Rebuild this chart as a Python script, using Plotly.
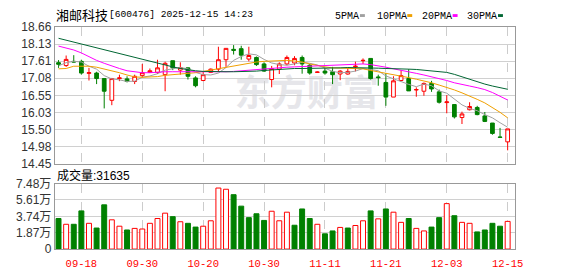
import plotly.graph_objects as go

# ---------------- data ----------------
dates = ["09-15", "09-16", "09-17", "09-18", "09-19", "09-22", "09-23", "09-24", "09-25", "09-26",
         "09-29", "09-30", "10-09", "10-10", "10-13", "10-14", "10-15", "10-16", "10-17", "10-20",
         "10-21", "10-22", "10-23", "10-24", "10-27", "10-28", "10-29", "10-30", "10-31", "11-03",
         "11-04", "11-05", "11-06", "11-07", "11-10", "11-11", "11-12", "11-13", "11-14", "11-17",
         "11-18", "11-19", "11-20", "11-21", "11-24", "11-25", "11-26", "11-27", "11-28", "12-01",
         "12-02", "12-03", "12-04", "12-05", "12-08", "12-09", "12-10", "12-11", "12-12", "12-15"]

opens = [17.56, 17.47, 17.60, 17.60, 17.23, 17.24, 17.07, 16.40, 17.07, 17.06,
         16.98, 17.16, 17.26, 17.26, 17.19, 17.62, 17.33, 17.40, 17.09, 17.01,
         17.26, 17.36, 17.65, 17.97, 17.99, 17.67, 17.72, 17.52, 17.04, 17.36,
         17.52, 17.55, 17.72, 17.48, 17.26, 17.30, 17.28, 17.21, 17.21, 17.43,
         17.62, 17.69, 17.12, 16.95, 16.50, 17.01, 17.07, 16.72, 16.68, 16.92,
         16.66, 16.33, 16.27, 15.87, 16.11, 16.18, 15.92, 15.70, 15.27, 15.12]
highs = [17.64, 17.78, 17.79, 17.65, 17.40, 17.28, 17.07, 17.09, 17.19, 17.14,
         17.19, 17.52, 17.38, 17.65, 17.59, 17.62, 17.57, 17.41, 17.14, 17.28,
         17.38, 18.05, 18.00, 18.10, 18.08, 18.05, 17.75, 17.57, 17.46, 17.57,
         17.78, 17.76, 17.78, 17.52, 17.29, 17.40, 17.43, 17.33, 17.40, 17.59,
         17.69, 17.69, 17.19, 17.24, 17.14, 17.33, 17.36, 16.80, 16.95, 17.00,
         16.73, 16.56, 16.27, 16.05, 16.34, 16.23, 16.04, 15.70, 15.55, 15.52]
lows = [17.40, 17.43, 17.57, 17.19, 17.01, 16.90, 16.15, 16.25, 16.99, 16.95,
        16.90, 17.09, 17.24, 17.21, 16.68, 17.33, 17.19, 17.04, 16.80, 16.99,
        17.24, 17.28, 17.43, 17.81, 17.65, 17.60, 17.46, 17.28, 16.80, 17.21,
        17.48, 17.48, 17.22, 17.19, 17.25, 17.19, 16.90, 17.02, 17.19, 17.29,
        17.52, 17.04, 16.85, 16.23, 16.50, 16.99, 16.69, 16.51, 16.54, 16.66,
        16.30, 16.00, 15.84, 15.67, 16.09, 15.94, 15.73, 15.34, 15.24, 14.86]
closes = [17.51, 17.66, 17.58, 17.24, 17.25, 17.07, 16.68, 17.07, 17.09, 16.98,
          17.14, 17.25, 17.31, 17.40, 17.54, 17.40, 17.41, 17.14, 16.85, 17.19,
          17.36, 17.65, 18.00, 17.94, 17.79, 17.78, 17.50, 17.30, 17.38, 17.52,
          17.72, 17.69, 17.52, 17.24, 17.27, 17.24, 17.19, 17.30, 17.29, 17.45,
          17.63, 17.07, 17.10, 16.50, 17.00, 17.16, 16.69, 16.73, 16.92, 16.75,
          16.34, 16.35, 15.89, 15.98, 16.21, 15.96, 15.75, 15.38, 15.26, 15.52]

# volume in 万 (10k shares); 1 = up day (red hollow), 0 = down day (green)
volume = [3.49, 2.83, 2.83, 4.36, 2.94, 2.40, 5.05, 3.34, 2.61, 2.18,
          2.36, 2.29, 2.94, 3.49, 4.10, 3.70, 3.12, 2.94, 2.51, 2.61,
          3.23, 6.97, 6.83, 6.21, 4.90, 3.59, 4.03, 3.27, 4.32, 3.23,
          4.21, 2.72, 4.58, 3.49, 2.83, 1.74, 2.07, 2.47, 2.40, 2.69,
          3.23, 4.36, 3.45, 4.58, 4.21, 3.05, 3.49, 2.36, 2.07, 2.51,
          3.59, 5.19, 3.81, 3.05, 2.94, 1.96, 2.18, 2.94, 2.61, 3.16]
vol_up = [0, 1, 0, 0, 1, 0, 0, 1, 1, 0,
          1, 1, 1, 1, 1, 0, 1, 0, 0, 1,
          1, 1, 1, 0, 0, 0, 0, 0, 1, 1,
          1, 0, 0, 0, 1, 0, 0, 1, 0, 1,
          1, 0, 1, 0, 1, 1, 0, 1, 1, 0,
          0, 1, 0, 1, 1, 0, 0, 0, 0, 1]

ma5 = [17.46, 17.56, 17.60, 17.58, 17.45, 17.36, 17.16, 17.06, 17.03, 16.98,
       16.99, 17.11, 17.15, 17.22, 17.33, 17.38, 17.41, 17.37, 17.26, 17.19,
       17.18, 17.24, 17.41, 17.63, 17.75, 17.83, 17.80, 17.66, 17.55, 17.50,
       17.48, 17.52, 17.57, 17.54, 17.49, 17.39, 17.29, 17.25, 17.26, 17.30,
       17.38, 17.35, 17.31, 17.15, 17.06, 16.97, 16.89, 16.82, 16.90, 16.85,
       16.69, 16.62, 16.45, 16.26, 16.15, 16.08, 15.96, 15.86, 15.71, 15.57]
ma10 = [17.37, 17.38, 17.45, 17.46, 17.45, 17.42, 17.37, 17.31, 17.25, 17.18,
        17.12, 17.11, 17.11, 17.13, 17.17, 17.19, 17.21, 17.22, 17.25, 17.29,
        17.33, 17.38, 17.42, 17.47, 17.51, 17.55, 17.58, 17.60, 17.61, 17.62,
        17.63, 17.61, 17.58, 17.52, 17.47, 17.43, 17.40, 17.39, 17.38, 17.37,
        17.37, 17.32, 17.28, 17.24, 17.19, 17.15, 17.10, 17.05, 17.00, 16.94,
        16.87, 16.80, 16.72, 16.63, 16.54, 16.43, 16.32, 16.18, 16.03, 15.86]
ma20 = [18.07, 18.02, 17.95, 17.86, 17.74, 17.63, 17.54, 17.45, 17.38, 17.31,
        17.27, 17.25, 17.25, 17.27, 17.28, 17.28, 17.28, 17.28, 17.27, 17.27,
        17.26, 17.27, 17.28, 17.29, 17.31, 17.33, 17.36, 17.38, 17.40, 17.41,
        17.42, 17.43, 17.44, 17.45, 17.46, 17.47, 17.48, 17.49, 17.50, 17.51,
        17.52, 17.50, 17.47, 17.42, 17.37, 17.33, 17.28, 17.23, 17.18, 17.13,
        17.08, 17.01, 16.94, 16.88, 16.84, 16.79, 16.73, 16.64, 16.53, 16.41]
ma30 = [18.31, 18.25, 18.19, 18.13, 18.07, 18.01, 17.95, 17.89, 17.83, 17.77,
        17.71, 17.65, 17.59, 17.53, 17.48, 17.43, 17.38, 17.34, 17.31, 17.29,
        17.28, 17.28, 17.28, 17.28, 17.28, 17.29, 17.30, 17.32, 17.34, 17.36,
        17.37, 17.38, 17.38, 17.38, 17.38, 17.38, 17.39, 17.40, 17.41, 17.41,
        17.41, 17.40, 17.39, 17.38, 17.38, 17.37, 17.36, 17.35, 17.33, 17.31,
        17.29, 17.26, 17.20, 17.12, 17.04, 16.97, 16.90, 16.84, 16.79, 16.74]

price_ticks = [18.66, 18.13, 17.61, 17.08, 16.55, 16.03, 15.50, 14.98, 14.45]
vol_ticks = [0, 1.87, 3.74, 5.61, 7.48]
vol_ticktext = ["0", "1.87万", "3.74万", "5.61万", "7.48万"]
label_dates = ["09-18", "09-30", "10-20", "10-30", "11-11", "11-21", "12-03", "12-15"]
stock_name = "湘邮科技"
stock_info = "[600476] 2025-12-15 14:23"
volume_title = "成交量:31635"
ma_names = ["5PMA", "10PMA", "20PMA", "30PMA"]
ma_colors = ["#a0a0a0", "#f0a000", "#ff00ff", "#006633"]
watermark = "东方财富"

# ---------------- figure ----------------
W, H = 578, 276
def px(x):
    return x / W
def py(y):
    return 1 - y / H

RED = "#ff0000"
GREEN = "#008000"

fig = go.Figure()
fig.add_trace(go.Candlestick(
    x=dates, open=opens, high=highs, low=lows, close=closes,
    xaxis="x", yaxis="y",
    increasing=dict(line=dict(color=RED, width=1), fillcolor="#ffffff"),
    decreasing=dict(line=dict(color=GREEN, width=1), fillcolor=GREEN),
    whiskerwidth=0, showlegend=False, hoverinfo="skip"))

for name, vals, col in zip(ma_names, [ma5, ma10, ma20, ma30], ma_colors):
    fig.add_trace(go.Scatter(x=dates, y=vals, mode="lines", name=name,
                             line=dict(color=col, width=1), xaxis="x", yaxis="y",
                             showlegend=False, hoverinfo="skip"))

fig.add_trace(go.Bar(
    x=dates, y=volume, xaxis="x2", yaxis="y2",
    marker=dict(color=["#ffffff" if u else GREEN for u in vol_up],
                line=dict(color=[RED if u else GREEN for u in vol_up], width=1)),
    showlegend=False, hoverinfo="skip"))

xdom = [px(55.5), px(522.5)]
tick_font = dict(family="Liberation Sans, Noto Sans CJK SC", size=12, color="#333333")
xcommon = dict(type="category", domain=xdom, range=[-0.5, 60],
               tickvals=label_dates, showgrid=True, gridcolor="#cccccc", griddash="dash",
               gridwidth=1, showline=True, linecolor="#999999", linewidth=1, mirror=True,
               ticks="", zeroline=False, fixedrange=True)

fig.update_layout(
    width=W, height=H, margin=dict(l=0, r=0, t=0, b=0),
    paper_bgcolor="#ffffff", plot_bgcolor="#ffffff",
    bargap=0.35, boxgap=0.3, showlegend=False,
    xaxis=dict(**xcommon, anchor="y", showticklabels=False,
               rangeslider=dict(visible=False)),
    yaxis=dict(domain=[py(165), py(21)], range=[14.45, 18.66], anchor="x",
               tickvals=price_ticks, ticktext=["%.2f" % v for v in price_ticks],
               tickfont=tick_font, showgrid=True, gridcolor="#d0d0d0", gridwidth=1,
               showline=True, linecolor="#999999", mirror=True, ticks="",
               zeroline=False, fixedrange=True),
    xaxis2=dict(**xcommon, anchor="y2", showticklabels=True, ticktext=label_dates,
                ticklabelstandoff=4,
                tickfont=dict(family="Liberation Mono", size=10.5, color=RED)),
    yaxis2=dict(domain=[py(255), py(186)], range=[0, 7.48], anchor="x2",
                tickvals=vol_ticks, ticktext=vol_ticktext, tickfont=tick_font,
                showgrid=True, gridcolor="#d0d0d0", gridwidth=1,
                showline=True, linecolor="#999999", mirror=True, ticks="",
                zeroline=False, fixedrange=True),
)

annotations = [
    dict(text=stock_name, x=px(55), y=py(8), xref="paper", yref="paper",
         xanchor="left", yanchor="middle", showarrow=False,
         font=dict(family="Noto Sans CJK SC", size=13, color="#000000")),
    dict(text=stock_info, x=px(108), y=py(8), xref="paper", yref="paper",
         xanchor="left", yanchor="middle", showarrow=False,
         font=dict(family="Liberation Mono", size=9.6, color="#000000")),
    dict(text=volume_title, x=px(56), y=py(178), xref="paper", yref="paper",
         xanchor="left", yanchor="middle", showarrow=False,
         font=dict(family="Liberation Sans, Noto Sans CJK SC", size=12, color="#000000")),
]
legend_x = [338, 380, 426, 472]
legend_sq = [365, 413, 459, 505]
shapes = []
for name, col, lx, sx in zip(ma_names, ma_colors, legend_x, legend_sq):
    annotations.append(dict(text=name, x=px(lx), y=py(9.5), xref="paper", yref="paper",
                            xanchor="left", yanchor="middle", showarrow=False,
                            font=dict(family="Liberation Mono", size=10, color="#000000")))
    shapes.append(dict(type="rect", xref="paper", yref="paper",
                       x0=px(sx), x1=px(sx + 5), y0=py(10.5), y1=py(7.5),
                       fillcolor=col, line=dict(width=0)))

# watermark behind the data
shapes.append(dict(type="rect", xref="paper", yref="paper", layer="below",
                   x0=px(238), x1=px(384), y0=py(114), y1=py(74),
                   fillcolor="rgba(0,0,0,0)", line=dict(width=0),
                   label=dict(text=watermark, textposition="middle center",
                              font=dict(family="Noto Sans CJK SC", size=36,
                                        color="#e6e6ea", weight="bold"))))

fig.update_layout(annotations=annotations, shapes=shapes)
fig.write_html("out.html")
